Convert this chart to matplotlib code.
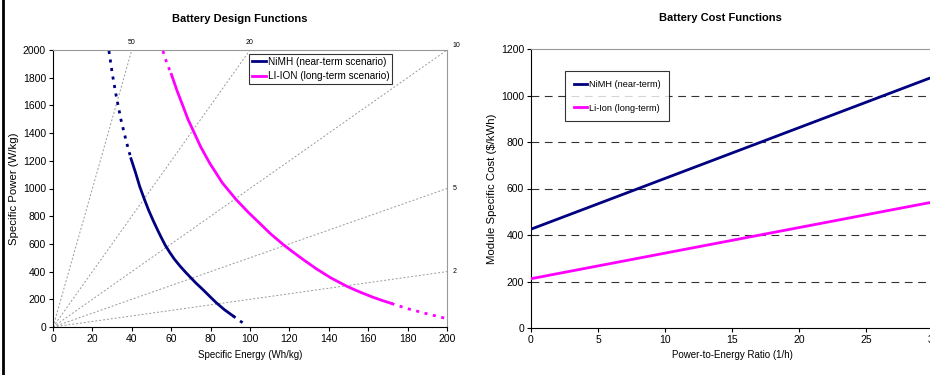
import numpy as np
import matplotlib.pyplot as plt
from matplotlib.lines import Line2D

plt.rcParams['font.family'] = ['Liberation Sans', 'DejaVu Sans']

# design functions
nimh_solid_e = [39.6, 42, 44, 46.5, 48.5, 50.8, 53, 55, 57, 59.2, 61.5, 64.3, 67, 69.4, 72.5, 76.1, 79.5, 82.9, 87, 91.4]
nimh_solid_p = [1215, 1110, 1015, 918, 845, 770, 703, 645, 590, 540, 492, 443, 400, 364, 318, 270, 222, 175, 125, 80]
nimh_top_e = [28.4, 30.2, 32.1, 34.6, 37.2, 39.6]
nimh_top_p = [1993, 1820, 1667, 1490, 1340, 1215]
nimh_bot_e = [91.4, 94.8, 98.2]
nimh_bot_p = [80, 45, 12]

li_solid_e = [60.1, 63, 66, 68.5, 71.1, 75, 79.5, 86, 93.1, 99, 104.9, 110.5, 116.8, 121, 126.9,
              133.7, 141, 149, 155.5, 162.4, 167, 171.8]
li_solid_p = [1824, 1705, 1594, 1500, 1420, 1300, 1184, 1040, 918, 830, 749, 672, 596, 550, 488,
              420, 355, 295, 254, 215, 192, 170]
li_top_e = [55.8, 57.8, 60.1]
li_top_p = [1993, 1905, 1824]
li_bot_e = [171.8, 180, 190, 199.7]
li_bot_p = [170, 132, 95, 61]

ratios = [50, 20, 10, 5, 2]

# cost functions
pe_ratio = [0, 30]
nimh_cost = [425, 1080]
li_cost = [212, 542]

navy = '#000080'
magenta = '#ff00ff'
dots = (0, (1.1, 2.0))

fig = plt.figure(figsize=(9.3, 3.75), dpi=100)

# ---- left chart
ax1 = fig.add_axes([53/930, 48/375, 394/930, 277/375])
for r in ratios:
    e_end = min(200, 2000 / r)
    ax1.plot([0, e_end], [0, r * e_end], color='#999999', lw=0.7, ls=(0, (2, 2)), zorder=1)
    if e_end < 200:
        ax1.text(e_end, 2030, str(r), fontsize=5, ha='center', va='bottom')
    else:
        ax1.text(203, r * e_end + (30 if r == 10 else 0), str(r), fontsize=5, ha='left', va='center')

ax1.plot(nimh_solid_e, nimh_solid_p, color=navy, lw=2, label='NiMH (near-term scenario)', zorder=3)
ax1.plot(nimh_top_e, nimh_top_p, color=navy, lw=2, ls=dots, zorder=3)
ax1.plot(nimh_bot_e, nimh_bot_p, color=navy, lw=2, ls=dots, zorder=3)
ax1.plot(li_solid_e, li_solid_p, color=magenta, lw=2, label='LI-ION (long-term scenario)', zorder=3)
ax1.plot(li_top_e, li_top_p, color=magenta, lw=2, ls=dots, zorder=3)
ax1.plot(li_bot_e, li_bot_p, color=magenta, lw=2, ls=dots, zorder=3)

ax1.set_xlim(0, 200)
ax1.set_ylim(0, 2000)
ax1.set_xticks(range(0, 201, 20))
ax1.set_yticks(range(0, 2001, 200))
ax1.tick_params(labelsize=7.5, length=3, width=0.8, pad=2)
ax1.spines['top'].set_color('#999999')
ax1.spines['right'].set_color('#999999')
ax1.set_xlabel('Specific Energy (Wh/kg)', fontsize=7, labelpad=4)
ax1.set_ylabel('Specific Power (W/kg)', fontsize=8.2, labelpad=3)
ax1.set_title('Battery Design Functions', fontsize=8, fontweight='bold', pad=20, x=0.475)
leg1 = ax1.legend(loc='upper right', bbox_to_anchor=(0.86, 0.985), fontsize=7.2, frameon=True,
                  fancybox=False, edgecolor='black', handlelength=1.4, handletextpad=0.2,
                  borderpad=0.25, labelspacing=0.45, borderaxespad=0)
leg1.get_frame().set_linewidth(0.8)

# ---- right chart
ax2 = fig.add_axes([531/930, 47/375, 402/930, 279/375])
for g in range(200, 1001, 200):
    ax2.axhline(g, color='#333333', lw=0.8, ls=(0, (7, 5)), zorder=1)
ax2.plot(pe_ratio, nimh_cost, color=navy, lw=2, label='NiMH (near-term)', zorder=3)
ax2.plot(pe_ratio, li_cost, color=magenta, lw=2, label='Li-Ion (long-term)', zorder=3)
ax2.set_xlim(0, 30)
ax2.set_ylim(0, 1200)
ax2.set_xticks(range(0, 31, 5))
ax2.set_yticks(range(0, 1201, 200))
ax2.tick_params(labelsize=7.5, length=3, width=0.8, pad=2)
ax2.spines['top'].set_color('#999999')
ax2.spines['right'].set_visible(False)
ax2.set_xlabel('Power-to-Energy Ratio (1/h)', fontsize=7, labelpad=4)
ax2.set_ylabel('Module Specific Cost (\\$/kWh)', fontsize=8.2, labelpad=3)
ax2.set_title('Battery Cost Functions', fontsize=8, fontweight='bold', pad=20, x=0.47)
leg2 = ax2.legend(loc='upper left', bbox_to_anchor=(0.085, 0.92), fontsize=6.6, frameon=True,
                  fancybox=False, edgecolor='black', handlelength=1.4, handletextpad=0.2,
                  borderpad=0.95, labelspacing=1.6, borderaxespad=0)
leg2.get_frame().set_linewidth(0.8)

# left border line
fig.add_artist(Line2D([3/930, 3/930], [0, 1], color='black', lw=2, transform=fig.transFigure))

fig.savefig('out.png', dpi=100)
